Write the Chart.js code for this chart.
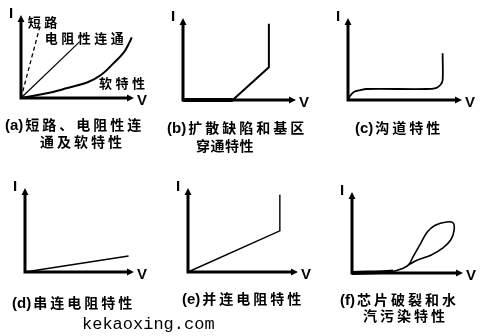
<!DOCTYPE html>
<html>
  <head>
    <meta charset="utf-8" />
    <title>I-V 特性</title>
    <style>
      body { margin: 0; background: #fff; }
      #wrap { position: relative; width: 494px; height: 336px; overflow: hidden; background: #fff; }
      canvas { position: absolute; }
      .cap {
        position: absolute;
        font: bold 14px "Noto Sans CJK SC", sans-serif;
        line-height: 16px;
        letter-spacing: 3px;
        white-space: nowrap;
        color: #000;
      }
      .cap span { letter-spacing: 0; margin-right: 2px; font-family: "Liberation Sans", sans-serif; font-size: 15px; }
      .mark {
        position: absolute;
        left: 82px;
        top: 316px;
        font: 17px "Liberation Mono", monospace;
        line-height: 18px;
        color: #000;
      }
    </style>
  </head>
  <body>
    <div id="wrap"></div>

    <script src="https://cdn.jsdelivr.net/npm/chart.js@4"></script>
    <script>
      // (a) 短路 / 电阻性连通 / 软特性
      const shortV = [0, 1.75];
      const shortI = [0, 9.0];
      const resV = [0, 5.2];
      const resI = [0, 6.8];
      const softV = [0, 2.4, 4.1, 5.9, 7.1, 8.2, 9.1, 9.6, 9.8];
      const softI = [0, 0.6, 1.2, 1.9, 2.8, 4.2, 5.5, 6.7, 7.3];
      // (b) 扩散缺陷和基区穿通
      const diffV = [0, 4.4, 7.6, 7.6];
      const diffI = [0, 0, 4.0, 9.3];
      // (c) 沟道
      const chanV = [0, 0.18, 0.54, 1.07, 1.6, 6.9, 7.7, 8.1, 8.3, 8.3];
      const chanI = [0, 0.5, 1.0, 1.2, 1.34, 1.34, 1.46, 1.83, 2.4, 5.7];
      // (d) 串连电阻
      const serV = [0, 9.5];
      const serI = [0, 1.9];
      // (e) 并连电阻
      const parV = [0, 8.35, 8.35];
      const parI = [0, 4.9, 9.2];
      // (f) 芯片破裂和水汽污染
      const crackV = [0, 3.7, 4.6, 5.1, 5.5, 6.2, 6.8, 7.5, 8.5, 9.1, 9.2, 8.9, 8.2, 7.1, 5.9, 5.1];
      const crackI = [0, 0.2, 0.6, 1.0, 2.0, 3.7, 5.1, 5.9, 6.3, 6.2, 5.3, 4.1, 3.1, 2.2, 1.6, 1.0];

      const captions = [
        ["(a)短路、电阻性连", "通及软特性"],
        ["(b)扩散缺陷和基区", "穿通特性"],
        ["(c)沟道特性"],
        ["(d)串连电阻特性"],
        ["(e)并连电阻特性"],
        ["(f)芯片破裂和水", "汽污染特性"],
      ];
      const notesA = [
        { text: "短路", v: 0.6, i: 9.1 },
        { text: "电阻性连通", v: 2.1, i: 7.2 },
        { text: "软特性", v: 6.9, i: 1.75 },
      ];

      const zip = (xs, ys) => xs.map((x, k) => ({ x: x, y: ys[k] }));

      // chart area of each panel: left, top, right, bottom (px)
      const areas = [
        [21, 15, 134, 98],
        [183, 18, 296, 100],
        [348, 18, 462, 100],
        [25, 188, 134, 272],
        [188, 188, 298, 272],
        [352, 192, 463, 273],
      ];
      // caption positions: [left, centerY] per line
      const capPos = [
        [[5, 123.5], [40, 141]],
        [[167, 126.5], [196, 144.5]],
        [[355, 127]],
        [[12, 302]],
        [[182, 298]],
        [[340, 298.5], [363, 315]],
      ];

      const PAD = 22;
      const wrap = document.getElementById("wrap");

      const axesPlugin = {
        id: "axes",
        beforeDatasetsDraw(chart, args, opts) {
          const ctx = chart.ctx;
          const a = chart.chartArea;
          const x0 = chart.scales.x.getPixelForValue(0);
          const y0 = chart.scales.y.getPixelForValue(0);
          ctx.save();
          ctx.strokeStyle = "#000";
          ctx.fillStyle = "#000";
          ctx.lineWidth = 3;
          ctx.lineCap = "butt";
          ctx.beginPath();
          ctx.moveTo(x0 - 1.5, y0);
          ctx.lineTo(a.right - 5, y0);
          ctx.moveTo(x0, y0 + 1.5);
          ctx.lineTo(x0, a.top + 5);
          ctx.stroke();
          // arrow heads
          ctx.beginPath();
          ctx.moveTo(a.right, y0);
          ctx.lineTo(a.right - 7, y0 - 3.5);
          ctx.lineTo(a.right - 7, y0 + 3.5);
          ctx.closePath();
          ctx.moveTo(x0, a.top);
          ctx.lineTo(x0 - 3.5, a.top + 7);
          ctx.lineTo(x0 + 3.5, a.top + 7);
          ctx.closePath();
          ctx.fill();
          // axis names
          ctx.font = "bold 15px 'Liberation Sans', sans-serif";
          ctx.textAlign = "center";
          ctx.textBaseline = "top";
          ctx.fillText("I", x0 - 10, a.top - 9);
          ctx.textBaseline = "middle";
          ctx.fillText("V", a.right + 8, y0 + 3);
          // notes
          ctx.font = "bold 13px 'Noto Sans CJK SC', sans-serif";
          ctx.textAlign = "left";
          (opts.notes || []).forEach((n) => {
            let px = chart.scales.x.getPixelForValue(n.v);
            const py = chart.scales.y.getPixelForValue(n.i);
            for (const ch of n.text) {
              ctx.fillText(ch, px, py);
              px += 16.5;
            }
          });
          ctx.restore();
        },
      };

      function line(points, extra) {
        return Object.assign(
          {
            data: points,
            borderColor: "#000",
            borderWidth: 1.6,
            pointRadius: 0,
            fill: false,
            clip: false,
            tension: 0,
          },
          extra || {}
        );
      }

      const thickFlat = (w) => ({
        borderWidth: (c) => (c.p0.parsed.y <= 0.2 && c.p1.parsed.y <= 0.2 ? 4 : w),
      });

      const panelSets = [
        [
          line(zip(shortV, shortI), { borderDash: [4, 3], borderWidth: 1.3 }),
          line(zip(resV, resI), { borderWidth: 1.2 }),
          line(zip(softV, softI), { borderWidth: 2, tension: 0.4 }),
        ],
        [line(zip(diffV, diffI), { borderWidth: 2, segment: thickFlat(2) })],
        [line(zip(chanV, chanI), { borderWidth: 1.8, tension: 0.3 })],
        [line(zip(serV, serI), { borderWidth: 1.4 })],
        [line(zip(parV, parI), { borderWidth: 1.4 })],
        [line(zip(crackV, crackI), { borderWidth: 1.6, tension: 0.4, segment: thickFlat(1.6) })],
      ];

      areas.forEach((ar, k) => {
        const [l, t, r, b] = ar;
        const cv = document.createElement("canvas");
        const w = r - l + PAD * 2;
        const h = b - t + PAD * 2;
        cv.width = w;
        cv.height = h;
        cv.style.width = w + "px";
        cv.style.height = h + "px";
        cv.style.left = l - PAD + "px";
        cv.style.top = t - PAD + "px";
        wrap.appendChild(cv);

        new Chart(cv.getContext("2d"), {
          type: "line",
          data: { datasets: panelSets[k] },
          options: {
            responsive: false,
            animation: false,
            events: [],
            layout: { padding: PAD },
            scales: {
              x: { type: "linear", min: 0, max: 10, display: false },
              y: { type: "linear", min: 0, max: 10, display: false },
            },
            plugins: {
              legend: { display: false },
              tooltip: { enabled: false },
              axes: { notes: k === 0 ? notesA : [] },
            },
          },
          plugins: [axesPlugin],
        });

        captions[k].forEach((txt, j) => {
          const d = document.createElement("div");
          d.className = "cap";
          const m = txt.match(/^\(.\)/);
          if (m) {
            const s = document.createElement("span");
            s.textContent = m[0];
            d.appendChild(s);
            d.appendChild(document.createTextNode(txt.slice(m[0].length)));
          } else {
            d.textContent = txt;
          }
          d.style.left = capPos[k][j][0] + "px";
          d.style.top = capPos[k][j][1] - 8 + "px";
          if (k === 1 && j === 1) d.style.letterSpacing = "0.5px";
          wrap.appendChild(d);
        });
      });

      const mark = document.createElement("div");
      mark.className = "mark";
      mark.textContent = "kekaoxing.com";
      wrap.appendChild(mark);
    </script>
  </body>
</html>
